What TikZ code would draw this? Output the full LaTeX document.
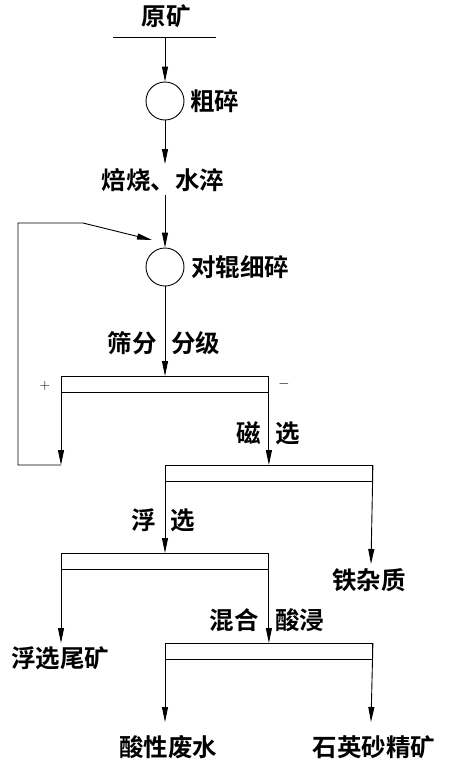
\documentclass[tikz,border=0pt]{standalone}
\usepackage{fontspec}
\newfontfamily\cjk{Noto Sans CJK SC}[BoldFont={Noto Sans CJK SC Bold}]
\usetikzlibrary{arrows.meta}
\begin{document}
\begin{tikzpicture}[x=1pt,y=-1pt, line width=0.9pt,
  >={Triangle[length=15pt,width=6pt]},
  lbl/.style={font=\cjk\bfseries\fontsize{24.5}{26}\selectfont, inner sep=0pt},
  mill/.style={circle,draw,minimum size=38pt,inner sep=0pt},
  screen/.style={draw,minimum width=207pt,minimum height=16pt,anchor=north west,inner sep=0pt}]
\useasboundingbox (0,0) rectangle (449,766);
% feed
\node[lbl] (feed) at (166,16) {原矿};
\coordinate (fl) at (113,37);
\coordinate (fr) at (216,37);
\coordinate (fm) at (165,37);
\draw (fl) -- (fr);
% coarse crushing
\node[mill] (c1) at (165,101) {};
\node[lbl,anchor=west] (c1l) at (190,101) {粗碎};
\draw[->] (fm) -- (c1.north);
% roasting
\node[lbl] (roast) at (163,180) {焙烧、水淬};
\coordinate (r1) at (165,164);
\coordinate (r2) at (165,195);
\draw[->] (c1.south) -- (r1);
% fine crushing
\node[mill] (c2) at (165,267) {};
\node[lbl,anchor=west] (c2l) at (191,267) {对辊细碎};
\draw[->] (r2) -- (c2.north);
% screen
\node[screen] (s1) at (61,376) {};
\node[lbl,anchor=east] (s1a) at (157,343) {筛分};
\node[lbl,anchor=west] (s1b) at (171,343) {分级};
\draw[->] (c2.south) -- (c2.south |- s1.north);
\node[font=\fontsize{14}{14}\selectfont,inner sep=0pt] (plus) at (45,386) {+};
\node[font=\fontsize{14}{14}\selectfont,inner sep=0pt] (minus) at (284,384) {$-$};
% recycle loop
\coordinate (o1) at (61,465);
\coordinate (o2) at (18,465);
\coordinate (o3) at (18,223);
\coordinate (o4) at (83,223);
\coordinate (o5) at (152,240);
\draw[->] (s1.north west) -- (o1);
\draw[->] (o1) -- (o2) -- (o3) -- (o4) -- (o5);
% magnetic
\node[screen] (s2) at (165,465) {};
\node[lbl,anchor=east] (s2a) at (261,433) {磁};
\node[lbl,anchor=west] (s2b) at (275,433) {选};
\draw[->] (s1.north east) -- (s1.north east |- s2.north);
\node[lbl] (fe) at (369,580) {铁杂质};
\coordinate (fe1) at (371,564);
\draw[->] (s2.north east) -- (fe1);
% flotation
\node[screen] (s3) at (61,553) {};
\node[lbl,anchor=east] (s3a) at (156,520) {浮};
\node[lbl,anchor=west] (s3b) at (170,520) {选};
\draw[->] (s2.north west) -- (s2.north west |- s3.north);
\node[lbl] (tail) at (60,658) {浮选尾矿};
\coordinate (t1) at (61,643);
\draw[->] (s3.north west) -- (t1);
% acid leaching
\node[screen] (s4) at (165,643) {};
\node[lbl,anchor=east] (s4a) at (259,620) {混合};
\node[lbl,anchor=west] (s4b) at (275,620) {酸浸};
\draw[->] (s3.north east) -- (s3.north east |- s4.north);
\node[lbl] (waste) at (168,747) {酸性废水};
\node[lbl] (conc) at (374,747) {石英砂精矿};
\coordinate (w1) at (165,722);
\coordinate (w2) at (371,722);
\draw[->] (s4.north west) -- (w1);
\draw[->] (s4.north east) -- (w2);
\end{tikzpicture}
\end{document}
